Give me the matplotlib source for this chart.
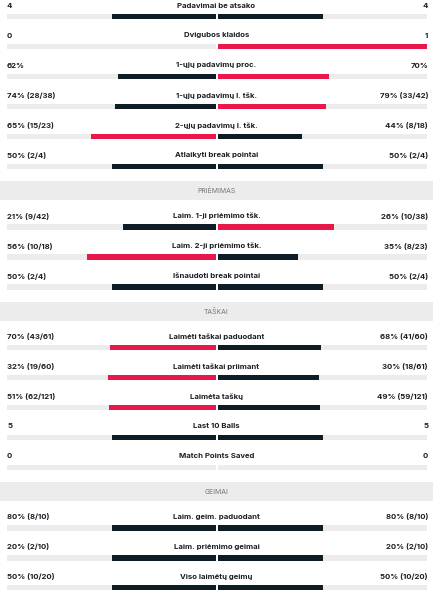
import matplotlib.pyplot as plt
from matplotlib.patches import Rectangle

plt.rcParams['font.family'] = ['Inter', 'DejaVu Sans']

# Duomenys: skyriai, statistikos pavadinimai, reiksmes ir tekstai
sections = [None, 'PRIĖMIMAS', 'TAŠKAI', 'GEIMAI']
labels = [
    ['Padavimai be atsako', 'Dvigubos klaidos', '1-ųjų padavimų proc.',
     '1-ųjų padavimų l. tšk.', '2-ųjų padavimų l. tšk.', 'Atlaikyti break pointai'],
    ['Laim. 1-ji priėmimo tšk.', 'Laim. 2-ji priėmimo tšk.', 'Išnaudoti break pointai'],
    ['Laimėti taškai paduodant', 'Laimėti taškai priimant', 'Laimėta taškų',
     'Last 10 Balls', 'Match Points Saved'],
    ['Laim. geim. paduodant', 'Laim. priėmimo geimai', 'Viso laimėtų geimų'],
]
left_vals = [[4, 0, 62, 74, 65, 50], [21, 56, 50], [70, 32, 51, 5, 0], [80, 20, 50]]
right_vals = [[4, 1, 70, 79, 44, 50], [26, 35, 50], [68, 30, 49, 5, 0], [80, 20, 50]]
left_txt = [['4', '0', '62%', '74% (28/38)', '65% (15/23)', '50% (2/4)'],
            ['21% (9/42)', '56% (10/18)', '50% (2/4)'],
            ['70% (43/61)', '32% (19/60)', '51% (62/121)', '5', '0'],
            ['80% (8/10)', '20% (2/10)', '50% (10/20)']]
right_txt = [['4', '1', '70%', '79% (33/42)', '44% (8/18)', '50% (2/4)'],
             ['26% (10/38)', '35% (8/23)', '50% (2/4)'],
             ['68% (41/60)', '30% (18/61)', '49% (59/121)', '5', '0'],
             ['80% (8/10)', '20% (2/10)', '50% (10/20)']]

RED = '#e8184b'
DARK = '#0e1c26'
TRACK = '#ececec'
TEXT = '#1a1f24'

W, H = 433, 590
fig = plt.figure(figsize=(W / 100, H / 100), dpi=100)
ax = fig.add_axes([0, 0, 1, 1])
ax.set_xlim(0, W)
ax.set_ylim(H, 0)
ax.axis('off')

x0, xmid, x1 = 7, 217, 428
gap = 1
half = xmid - x0 - gap
bar_h = 5.6

y = 5.5
for s, sec in enumerate(sections):
    if sec is not None:
        y += 5
        ax.add_patch(Rectangle((0, y - 9.5), W, 19, color=TRACK, lw=0))
        ax.text(W / 2, y + 0.3, sec, ha='center', va='center', fontsize=4.9,
                color='#6f757a')
        y += 25.5
    for i, lab in enumerate(labels[s]):
        lv, rv = left_vals[s][i], right_vals[s][i]
        ax.text(x0, y, left_txt[s][i], ha='left', va='center', fontsize=5.6,
                fontweight='bold', color=TEXT)
        ax.text(x1, y, right_txt[s][i], ha='right', va='center', fontsize=5.6,
                fontweight='bold', color=TEXT)
        ax.text(W / 2, y, lab, ha='center', va='center', fontsize=5.6,
                fontweight='bold', color=TEXT)
        by = y + 11
        # pilki takeliai
        ax.barh(by, half, left=x0, height=bar_h, color=TRACK, lw=0)
        ax.barh(by, half, left=xmid + gap, height=bar_h, color=TRACK, lw=0)
        tot = lv + rv
        if tot > 0:
            lc = RED if lv > rv else DARK
            rc = RED if rv > lv else DARK
            lw_ = half * lv / tot
            rw_ = half * rv / tot
            ax.barh(by, lw_, left=xmid - gap - lw_, height=bar_h, color=lc, lw=0)
            ax.barh(by, rw_, left=xmid + gap, height=bar_h, color=rc, lw=0)
        y += 30

fig.savefig('out.png', dpi=100)
